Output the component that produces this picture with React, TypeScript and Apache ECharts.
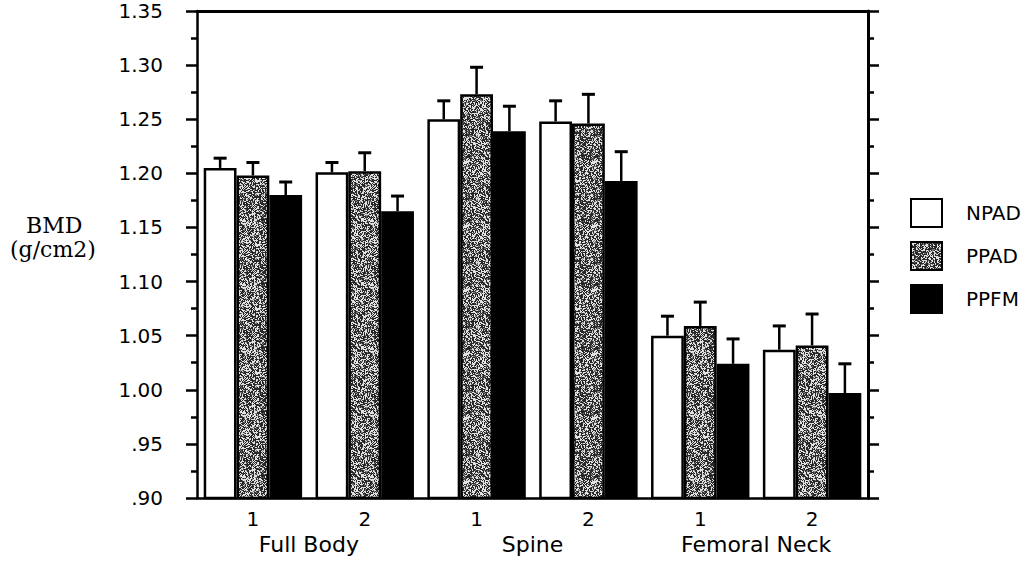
import React, { useEffect, useRef } from "react";
import * as echarts from "echarts";

const categories = ["1", "2", "1", "2", "1", "2"];
const groups = ["Full Body", "Spine", "Femoral Neck"];
const seriesNames = ["NPAD", "PPAD", "PPFM"];
const npad = [1.205, 1.201, 1.25, 1.248, 1.05, 1.037];
const npadErr = [0.009, 0.009, 0.017, 0.019, 0.018, 0.022];
const ppad = [1.198, 1.202, 1.273, 1.246, 1.059, 1.041];
const ppadErr = [0.012, 0.017, 0.025, 0.027, 0.022, 0.029];
const ppfm = [1.18, 1.165, 1.239, 1.193, 1.024, 0.997];
const ppfmErr = [0.012, 0.014, 0.023, 0.027, 0.023, 0.027];
const yTickLabels = [".90", ".95", "1.00", "1.05", "1.10", "1.15", "1.20", "1.25", "1.30", "1.35"];
const yMin = 0.9;
const yMax = 1.35;
const yStep = 0.05;

function makeSpeckle(): HTMLCanvasElement {
  const size = 64;
  const c = document.createElement("canvas");
  c.width = size;
  c.height = size;
  const ctx = c.getContext("2d")!;
  const img = ctx.createImageData(size, size);
  for (let y = 0; y < size; y++) {
    for (let x = 0; x < size; x++) {
      let h = (x * 374761393 + y * 668265263) | 0;
      h = Math.imul(h ^ (h >>> 13), 1274126177);
      h = h ^ (h >>> 16);
      const t = (h >>> 0) / 4294967295;
      const v = t < 0.5 ? 40 : t < 0.62 ? 120 : 225;
      const i = (y * size + x) * 4;
      img.data[i] = v;
      img.data[i + 1] = v;
      img.data[i + 2] = v;
      img.data[i + 3] = 255;
    }
  }
  ctx.putImageData(img, 0, 0);
  return c;
}

export default function App() {
  const ref = useRef<HTMLDivElement>(null);
  useEffect(() => {
    if (!ref.current) return;
    const chart = echarts.init(ref.current, null, { renderer: "svg" });
    const speckle = makeSpeckle();
    const grayFill: any = { image: speckle, repeat: "repeat", imageWidth: 64, imageHeight: 64 };
    const values = [npad, ppad, ppfm];
    const errs = [npadErr, ppadErr, ppfmErr];
    const fills: any[] = ["#ffffff", grayFill, "#000000"];
    const font = "DejaVu Sans";

    const barSeries = seriesNames.map((name, k) => ({
      name,
      type: "bar",
      xAxisIndex: 0,
      yAxisIndex: 0,
      barGap: "0%",
      barCategoryGap: "12%",
      data: values[k],
      itemStyle: { color: fills[k], borderColor: "#000", borderWidth: 2.5 },
    }));

    const errSeries = seriesNames.map((name, k) => ({
      name: name + " error",
      type: "custom",
      xAxisIndex: 0,
      yAxisIndex: 0,
      z: 5,
      data: values[k].map((v, i) => [i, v, v + errs[k][i]]),
      encode: { x: 0, y: [1, 2] },
      renderItem: (params: any, api: any) => {
        const cat = api.value(0);
        const p0 = api.coord([cat, api.value(1)]);
        const p1 = api.coord([cat, api.value(2)]);
        const bandW = api.size([1, 0])[0];
        const barW = (bandW * 0.88) / 3;
        const x = p0[0] + (k - 1) * barW;
        return {
          type: "group",
          children: [
            { type: "line", shape: { x1: x, y1: p0[1], x2: x, y2: p1[1] }, style: { stroke: "#000", lineWidth: 2.5 } },
            { type: "line", shape: { x1: x - 6.5, y1: p1[1], x2: x + 6.5, y2: p1[1] }, style: { stroke: "#000", lineWidth: 3 } },
          ],
        };
      },
    }));

    const yLabel = (v: number) => {
      const idx = Math.round((v - yMin) / yStep);
      return yTickLabels[idx] ?? "";
    };

    chart.setOption({
      animation: false,
      backgroundColor: "#ffffff",
      grid: { left: 197, right: 161, top: 11, bottom: 64, containLabel: false },
      legend: {
        data: seriesNames,
        orient: "vertical",
        left: 905,
        top: 193,
        itemWidth: 31,
        itemHeight: 28,
        itemGap: 13,
        icon: "rect",
        textStyle: { fontFamily: font, fontSize: 20, color: "#000", padding: [0, 0, 0, 19] },
      },
      xAxis: [
        {
          type: "category",
          data: categories,
          position: "bottom",
          axisLine: { lineStyle: { color: "#000", width: 2.5 } },
          axisTick: { alignWithLabel: true, length: 5, lineStyle: { color: "#000", width: 2 } },
          axisLabel: { margin: 11, fontFamily: font, fontSize: 20, color: "#000" },
        },
        {
          type: "category",
          data: groups,
          position: "bottom",
          axisLine: { show: false },
          axisTick: { show: false },
          axisLabel: { margin: 35, fontFamily: font, fontSize: 22, color: "#000" },
        },
        {
          type: "category",
          data: categories,
          position: "top",
          axisLine: { lineStyle: { color: "#000", width: 3 } },
          axisTick: { alignWithLabel: true, inside: true, length: 4, lineStyle: { color: "#000", width: 2 } },
          axisLabel: { show: false },
        },
      ],
      yAxis: [
        {
          type: "value",
          min: yMin,
          max: yMax,
          interval: yStep,
          position: "left",
          splitLine: { show: false },
          axisLine: { show: true, lineStyle: { color: "#000", width: 2.5 } },
          axisTick: { show: true, length: 11, lineStyle: { color: "#000", width: 2.5 } },
          minorTick: { show: true, splitNumber: 2, length: 6, lineStyle: { color: "#000", width: 2.5 } },
          axisLabel: { margin: 34, formatter: yLabel, fontFamily: font, fontSize: 20, color: "#000" },
        },
        {
          type: "value",
          min: yMin,
          max: yMax,
          interval: yStep,
          position: "right",
          splitLine: { show: false },
          axisLine: { show: true, lineStyle: { color: "#000", width: 3 } },
          axisTick: { show: true, length: 11, lineStyle: { color: "#000", width: 2.5 } },
          minorTick: { show: true, splitNumber: 2, length: 6, lineStyle: { color: "#000", width: 2.5 } },
          axisLabel: { show: false },
        },
      ],
      graphic: [
        {
          type: "text",
          left: 26,
          top: 214,
          style: { text: "BMD", fontFamily: "DejaVu Serif", fontSize: 22, fill: "#000" },
        },
        {
          type: "text",
          left: 10,
          top: 238,
          style: { text: "(g/cm2)", fontFamily: "DejaVu Serif", fontSize: 22, fill: "#000" },
        },
      ],
      series: [...barSeries, ...errSeries],
    });
    return () => chart.dispose();
  }, []);
  return <div ref={ref} style={{ position: "fixed", left: 0, top: 0, width: 1029, height: 562 }} />;
}
